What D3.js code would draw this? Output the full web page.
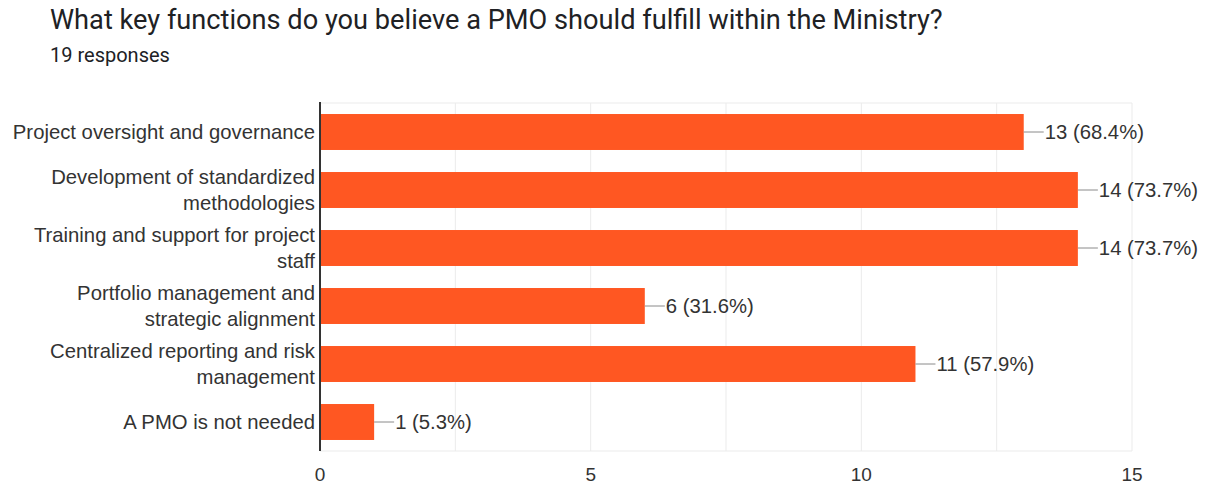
<!DOCTYPE html>
<html>
<head>
<meta charset="utf-8">
<script src="https://cdn.jsdelivr.net/npm/d3@7"></script>
<style>
  body { margin: 0; background: #fff; }
  svg { display: block; }
</style>
</head>
<body>
<script>
// survey data
let title = "What key functions do you believe a PMO should fulfill within the Ministry?";
let responses = 19;
let categories = [
    "Project oversight and governance",
    "Development of standardized methodologies",
    "Training and support for project staff",
    "Portfolio management and strategic alignment",
    "Centralized reporting and risk management",
    "A PMO is not needed"
];
let counts = [13, 14, 14, 6, 11, 1];
let tickValues = [0, 5, 10, 15];
let gridValues = [0, 2.5, 5, 7.5, 10, 12.5, 15];

let width = 1211,
    height = 484;

let margin = {top: 103, right: 79, bottom: 33, left: 320};
let labelFont = "Arial, 'Liberation Sans', sans-serif";

let svg = d3.select("body").append("svg")
    .attr("width", width)
    .attr("height", height);

svg.append("text")
    .attr("x", 50)
    .attr("y", 29)
    .style("font-family", "Roboto, sans-serif")
    .style("font-size", "27.2px")
    .style("fill", "#202124")
    .text(title);

svg.append("text")
    .attr("x", 50)
    .attr("y", 62)
    .style("font-family", "Roboto, sans-serif")
    .style("font-size", "20px")
    .style("fill", "#202124")
    .text(responses + " responses");

let x = d3.scaleLinear()
    .domain([0, 15])
    .range([margin.left, width - margin.right]);

let y = d3.scaleBand()
    .domain(categories)
    .range([margin.top, height - margin.bottom])
    .paddingInner(0.38)
    .paddingOuter(0.19);

let g = svg.append("g");

// gridlines
g.append("g")
    .selectAll("line")
    .data(gridValues)
    .enter().append("line")
    .attr("x1", d => x(d))
    .attr("x2", d => x(d))
    .attr("y1", margin.top)
    .attr("y2", height - margin.bottom)
    .attr("stroke", "#ebebeb")
    .attr("stroke-width", 1);

// top / bottom border of plot
g.append("line")
    .attr("x1", x(0)).attr("x2", x(15))
    .attr("y1", margin.top).attr("y2", margin.top)
    .attr("stroke", "#ebebeb");
g.append("line")
    .attr("x1", x(0)).attr("x2", x(15))
    .attr("y1", height - margin.bottom).attr("y2", height - margin.bottom)
    .attr("stroke", "#ebebeb");

// bars
g.append("g")
    .selectAll("rect")
    .data(categories)
    .enter().append("rect")
    .attr("x", x(0))
    .attr("y", d => y(d))
    .attr("width", (d, i) => x(counts[i]) - x(0))
    .attr("height", y.bandwidth())
    .attr("fill", "#ff5722");

// leader lines + value labels
let vl = g.append("g")
    .selectAll("g")
    .data(categories)
    .enter().append("g")
    .attr("transform", (d, i) => `translate(${x(counts[i])},${y(d) + y.bandwidth() / 2})`);

vl.append("line")
    .attr("x1", 0).attr("x2", 20)
    .attr("y1", 0).attr("y2", 0)
    .attr("stroke", "#8a8a8a")
    .attr("stroke-width", 1);

vl.append("text")
    .attr("x", 21)
    .attr("dy", "0.35em")
    .style("font-family", labelFont)
    .style("font-size", "20.3px")
    .style("fill", "#333")
    .text((d, i) => `${counts[i]} (${(counts[i] / responses * 100).toFixed(1)}%)`);

// y axis line
g.append("line")
    .attr("x1", x(0)).attr("x2", x(0))
    .attr("y1", margin.top - 1).attr("y2", height - margin.bottom)
    .attr("stroke", "#333")
    .attr("stroke-width", 2);

// category labels, wrapped to fit left margin
let catText = g.append("g")
    .selectAll("text")
    .data(categories)
    .enter().append("text")
    .attr("text-anchor", "end")
    .style("font-family", labelFont)
    .style("font-size", "20.3px")
    .style("fill", "#333");

catText.each(function (d) {
    let t = d3.select(this);
    let words = d.split(" ");
    let lines = [];
    let line = [];
    let probe = t.append("tspan");
    for (let w of words) {
        line.push(w);
        probe.text(line.join(" "));
        if (probe.node().getComputedTextLength() > 308 && line.length > 1) {
            line.pop();
            lines.push(line.join(" "));
            line = [w];
        }
    }
    lines.push(line.join(" "));
    probe.remove();
    let cy = y(d) + y.bandwidth() / 2;
    let lh = 26;
    lines.forEach((l, k) => {
        t.append("tspan")
            .attr("x", x(0) - 5)
            .attr("y", cy + (k - (lines.length - 1) / 2) * lh)
            .attr("dy", "0.35em")
            .text(l);
    });
});

// x axis tick labels
g.append("g")
    .selectAll("text")
    .data(tickValues)
    .enter().append("text")
    .attr("x", d => x(d))
    .attr("y", 481)
    .attr("text-anchor", "middle")
    .style("font-family", labelFont)
    .style("font-size", "19px")
    .style("fill", "#333")
    .text(d => d);
</script>
</body>
</html>
